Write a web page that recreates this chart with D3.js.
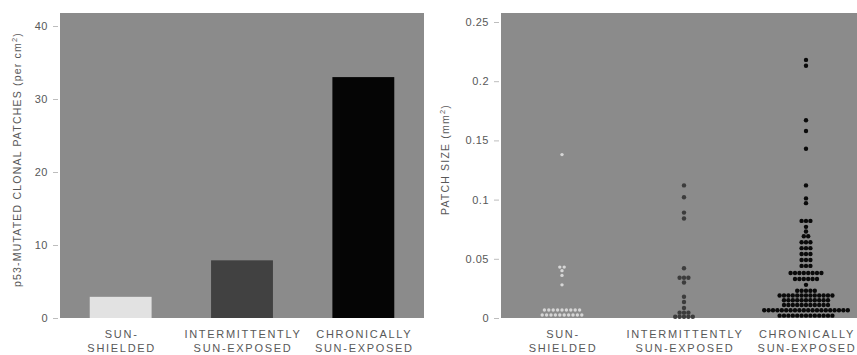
<!DOCTYPE html>
<html>
<head>
<meta charset="utf-8">
<script src="https://cdn.jsdelivr.net/npm/d3@7"></script>
<style>
  html, body { margin: 0; padding: 0; background: #fff; }
  svg text { font-family: "Liberation Sans", Arial, sans-serif; fill: #585858; }
</style>
</head>
<body>
<div id="chart"></div>
<script>
// categories shared by both panels
const categories = ['shielded', 'intermittent', 'chronic'];
const categoryLabels = [
  ['SUN-', 'SHIELDED'],
  ['INTERMITTENTLY', 'SUN-EXPOSED'],
  ['CHRONICALLY', 'SUN-EXPOSED']
];

// left panel: patches per cm2
const patchDensity = [2.9, 7.9, 33.0];
const densityTicks = [0, 10, 20, 30, 40];

// right panel: patch sizes (mm2), rows of [value, count]
const shieldedRows = [
  [0.138, 1], [0.043, 2], [0.040, 1], [0.036, 1], [0.028, 1],
  [0.0068, 9], [0.0025, 10]
];
const intermittentRows = [
  [0.112, 1], [0.102, 1], [0.089, 1], [0.084, 1], [0.042, 1],
  [0.034, 3], [0.030, 1], [0.018, 1], [0.0135, 1], [0.0085, 1],
  [0.0045, 3], [0.001, 5]
];
const chronicRows = [
  [0.218, 1], [0.213, 1], [0.167, 1], [0.158, 1], [0.143, 1],
  [0.112, 1], [0.101, 1], [0.097, 1], [0.082, 3], [0.077, 1],
  [0.073, 1], [0.069, 2], [0.064, 3], [0.059, 3], [0.054, 3],
  [0.049, 3], [0.044, 3], [0.038, 8], [0.033, 6], [0.028, 1],
  [0.023, 5], [0.019, 13], [0.015, 11], [0.011, 11], [0.0065, 20],
  [0.002, 13]
];
const sizeTicks = [0, 0.05, 0.1, 0.15, 0.2, 0.25];

const barColors = ['#e2e2e2', '#414141', '#050505'];
const dotColors = ['#d6d6d6', '#3c3c3c', '#0a0a0a'];

const W = 857, H = 355;
const plotBg = '#8b8b8b';
const plotTop = 13, plotBottom = 318;

const svg = d3.select('#chart').append('svg')
  .attr('width', W)
  .attr('height', H);

// shared axis drawing: small grey ticks outside the grey plot area
function drawYAxis(x, scale, ticks, fmt, title, titleX) {
  const axis = d3.axisLeft(scale)
    .tickValues(ticks)
    .tickFormat(fmt)
    .tickSize(5)
    .tickPadding(5);
  const g = svg.append('g')
    .attr('transform', `translate(${x},0)`)
    .call(axis);
  g.select('.domain').remove();
  g.selectAll('.tick line').attr('stroke', '#bdbdbd');
  g.selectAll('.tick text')
    .style('font-size', '11px')
    .style('letter-spacing', '0.5px');

  svg.append('text')
    .attr('transform', `translate(${titleX},${(plotTop + plotBottom) / 2 - 6}) rotate(-90)`)
    .attr('text-anchor', 'middle')
    .style('font-size', '10.5px')
    .style('letter-spacing', '1.2px')
    .html(title);
}

function drawXLabels(scale) {
  categories.forEach((c, i) => {
    const cx = scale(c) + scale.bandwidth() / 2;
    categoryLabels[i].forEach((line, j) => {
      svg.append('text')
        .attr('x', cx + 1)
        .attr('y', 338 + j * 14)
        .attr('text-anchor', 'middle')
        .style('font-size', '11px')
        .style('letter-spacing', '1.7px')
        .text(line);
    });
  });
}

// ---- left panel: bar chart ----
const x1 = d3.scaleBand()
  .domain(categories)
  .range([60, 424])
  .paddingInner(0.49)
  .paddingOuter(0.245);
const y1 = d3.scaleLinear()
  .domain([0, 40])
  .range([plotBottom, 26]);

svg.append('rect')
  .attr('x', 60).attr('y', plotTop)
  .attr('width', 364).attr('height', plotBottom - plotTop)
  .attr('fill', plotBg);

svg.append('g').selectAll('rect')
  .data(patchDensity)
  .join('rect')
  .attr('x', (d, i) => x1(categories[i]))
  .attr('y', d => y1(d))
  .attr('width', x1.bandwidth())
  .attr('height', d => y1(0) - y1(d))
  .attr('fill', (d, i) => barColors[i]);

drawYAxis(58, y1, densityTicks, d3.format('d'),
  'p53-MUTATED CLONAL PATCHES (per cm<tspan dy="-4" font-size="7.5px">2</tspan><tspan dy="4">)</tspan>', 21);
drawXLabels(x1);

// ---- right panel: dot plot ----
const x2 = d3.scaleBand()
  .domain(categories)
  .range([501, 867])
  .padding(0);
const y2 = d3.scaleLinear()
  .domain([0, 0.25])
  .range([plotBottom, 22]);

svg.append('rect')
  .attr('x', 501).attr('y', plotTop)
  .attr('width', W - 501).attr('height', plotBottom - plotTop)
  .attr('fill', plotBg);

const spacing = 4.4;
const groups = [shieldedRows, intermittentRows, chronicRows];
const points = [];
groups.forEach((rows, gi) => {
  rows.forEach(([v, n]) => {
    for (let k = 0; k < n; k++) {
      points.push({ group: gi, value: v, offset: (k - (n - 1) / 2) * spacing });
    }
  });
});

svg.append('g').selectAll('circle')
  .data(points)
  .join('circle')
  .attr('cx', d => x2(categories[d.group]) + x2.bandwidth() / 2 + d.offset)
  .attr('cy', d => y2(d.value))
  .attr('r', d => d.group === 0 ? 1.7 : 2.2)
  .attr('fill', d => dotColors[d.group]);

drawYAxis(499, y2, sizeTicks, d => d === 0 ? '0' : String(d),
  'PATCH SIZE (mm<tspan dy="-4" font-size="7.5px">2</tspan><tspan dy="4">)</tspan>', 449);
drawXLabels(x2);
</script>
</body>
</html>
